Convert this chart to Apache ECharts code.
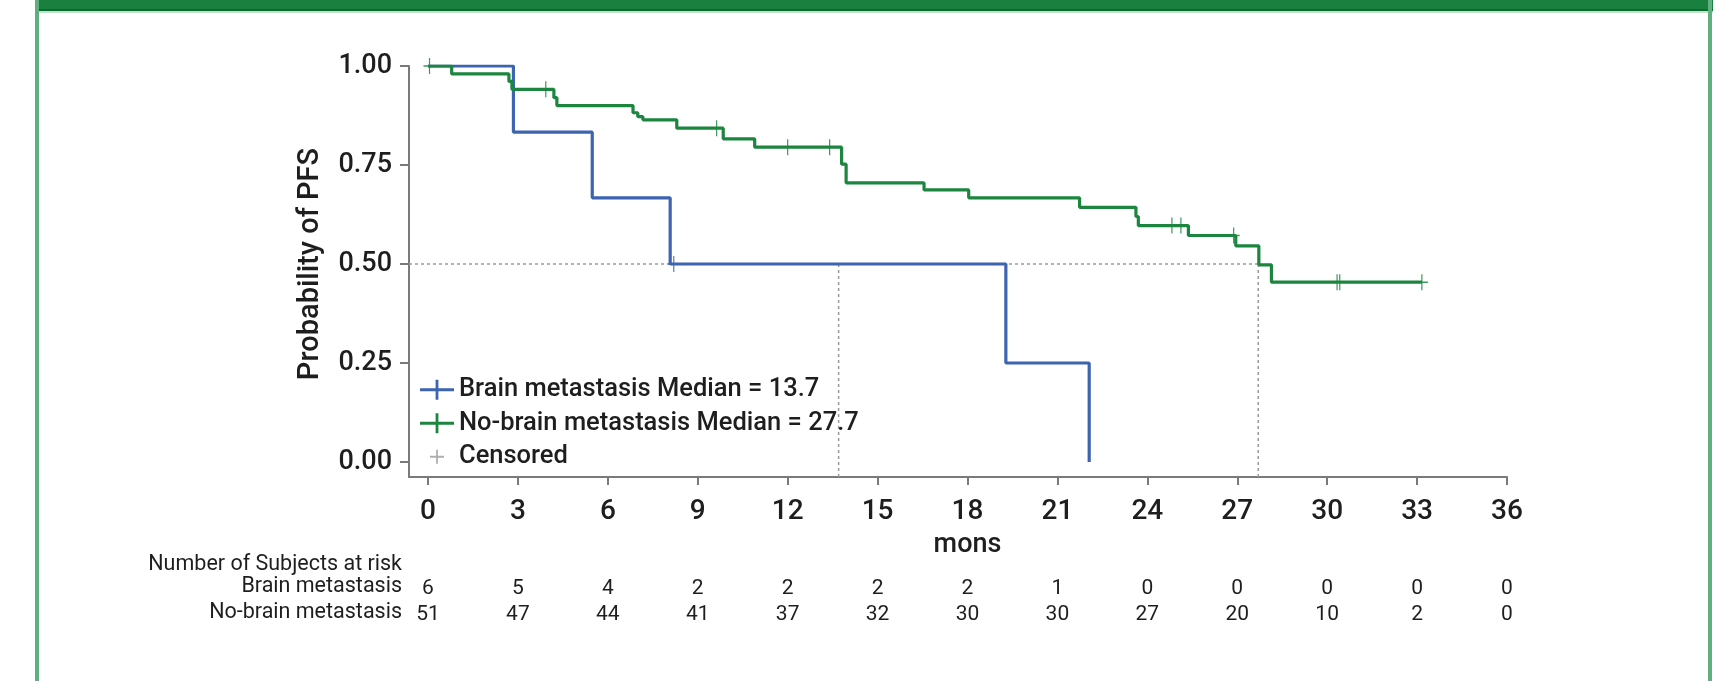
<!DOCTYPE html>
<html>
<head>
<meta charset="utf-8">
<title>PFS by brain metastasis status</title>
<script src="https://cdn.jsdelivr.net/npm/echarts@6/dist/echarts.min.js"></script>
<style>
  html, body { margin: 0; padding: 0; background: #ffffff; }
  #chart { width: 1720px; height: 681px; }
</style>
</head>
<body>
<div id="chart"></div>
<script>
// Follow-up months marked on the time axis
const tickMonths = [0, 3, 6, 9, 12, 15, 18, 21, 24, 27, 30, 33, 36];
// Subjects still at risk at each marked month
const riskBrain = [6, 5, 4, 2, 2, 2, 2, 1, 0, 0, 0, 0, 0];
const riskNoBrain = [51, 47, 44, 41, 37, 32, 30, 30, 27, 20, 10, 2, 0];

// Kaplan-Meier steps: time in months and PFS probability from that time on
const brainTimes = [0, 2.85, 5.48, 8.08, 19.28, 22.06];
const brainSurv = [1, 0.833, 0.667, 0.5, 0.25, 0];
const brainCensored = [8.2];

const noBrainTimes = [0, 0.79, 2.70, 2.80, 4.20, 4.30, 6.84, 7.00, 7.17, 8.30, 9.85, 10.90,
  13.80, 13.95, 16.55, 18.04, 21.74, 23.62, 23.70, 25.37, 26.95, 27.72, 28.14, 33.16];
const noBrainSurv = [1, 0.980, 0.961, 0.941, 0.920, 0.900, 0.882, 0.872, 0.864, 0.843, 0.816, 0.795,
  0.752, 0.705, 0.687, 0.667, 0.643, 0.620, 0.597, 0.572, 0.546, 0.498, 0.454, 0.454];
const noBrainCensored = [0.05, 3.93, 9.63, 12.0, 13.4, 24.82, 25.12, 26.88, 30.33, 30.42, 33.16];

const medianLevel = 0.5;
const medianBrain = 13.7;
const medianNoBrain = 27.7;

// ---- layout ----
const W = 1720, H = 681;
const PLOT = { left: 428, right: 1507, top: 66, bottom: 462 };
const GAP_LEFT = 19;    // y axis line sits left of month 0
const GAP_BOTTOM = 15;  // x axis line sits below probability 0
const X_MAX = 36, Y_MAX = 1;
const xMin = -GAP_LEFT * X_MAX / (PLOT.right - PLOT.left);
const yMin = -GAP_BOTTOM * Y_MAX / (PLOT.bottom - PLOT.top);

const FONT = 'Roboto, "DejaVu Sans", sans-serif';
const WEIGHT = 500;
const TEXT = '#1e1e1e';
const AXIS = '#7a7a7a';
const BLUE = '#3d64b0';
const GREEN = '#1c8540';
const GREY = '#9a9a9a';

const nameBrain = 'Brain metastasis Median = ' + medianBrain;
const nameNoBrain = 'No-brain metastasis Median = ' + medianNoBrain;

const CENSOR_MARK = 'path://M9,0h2v20h-2z M0,9h20v2h-20z';
const LEGEND_LINE_PLUS = 'path://M0,8.6h34v2.8h-34z M15.6,0h2.8v20h-2.8z';
const LEGEND_SMALL_PLUS = 'path://M0,0h0.01v0.01h-0.01z M34,20h-0.01v-0.01h0.01z M16.1,3h1.8v14h-1.8z M10,9.1h14v1.8h-14z';

function survivalAt(times, surv, t) {
  let s = surv[0];
  for (let i = 0; i < times.length; i++) if (times[i] <= t) s = surv[i];
  return s;
}
const steps = (times, surv) => times.map((t, i) => [t, surv[i]]);
const censorPoints = (cens, times, surv) => cens.map(c => [c, survivalAt(times, surv, c)]);

const riskAxis = (values, offset) => ({
  gridIndex: 1, type: 'value', position: 'bottom',
  min: 0, max: X_MAX, interval: 3, offset: offset,
  axisLine: { show: false, onZero: false }, axisTick: { show: false }, splitLine: { show: false },
  axisLabel: {
    margin: 0, fontFamily: FONT, fontSize: 21, lineHeight: 21, color: TEXT,
    formatter: v => String(values[tickMonths.indexOf(v)])
  }
});

const dotted = { color: GREY, width: 1.5, type: [3, 3] };
const plain = (data) => ({
  type: 'line', xAxisIndex: 0, yAxisIndex: 0, data: data, symbol: 'none',
  silent: true, lineStyle: dotted, z: 1
});

const tableTitle = (text, y) => ({
  type: 'text', silent: true, x: 402, y: y,
  style: { text: text, align: 'right', verticalAlign: 'middle',
    fontFamily: FONT, fontSize: 21.5, fill: TEXT }
});

const chart = echarts.init(document.getElementById('chart'), null, { renderer: 'canvas', width: W, height: H });

chart.setOption({
  animation: false,
  backgroundColor: '#ffffff',
  grid: [
    { left: PLOT.left - GAP_LEFT, right: W - PLOT.right, top: PLOT.top, bottom: H - PLOT.bottom - GAP_BOTTOM,
      containLabel: false, outerBoundsMode: 'none' },
    { left: PLOT.left, right: W - PLOT.right, top: PLOT.top, bottom: H - PLOT.bottom,
      containLabel: false, outerBoundsMode: 'none' }
  ],
  xAxis: [
    { gridIndex: 0, type: 'value', min: xMin, max: X_MAX, position: 'bottom',
      axisLine: { show: true, onZero: false, lineStyle: { color: AXIS, width: 2 } },
      axisTick: { show: false }, axisLabel: { show: false }, splitLine: { show: false } },
    { gridIndex: 1, type: 'value', min: 0, max: X_MAX, interval: 3, position: 'bottom', offset: GAP_BOTTOM,
      axisLine: { show: false, onZero: false },
      axisTick: { show: true, length: 8, lineStyle: { color: AXIS, width: 2 } },
      axisLabel: { margin: 21, fontFamily: FONT, fontSize: 28, fontWeight: WEIGHT, lineHeight: 28, color: TEXT,
        formatter: v => String(tickMonths[tickMonths.indexOf(v)]) },
      splitLine: { show: false },
      name: 'mons', nameLocation: 'middle', nameGap: 55,
      nameTextStyle: { fontFamily: FONT, fontSize: 27, fontWeight: WEIGHT, lineHeight: 27, color: TEXT } },
    riskAxis(riskBrain, 116),
    riskAxis(riskNoBrain, 142)
  ],
  yAxis: [
    { gridIndex: 0, type: 'value', min: yMin, max: Y_MAX, position: 'left',
      axisLine: { show: true, onZero: false, lineStyle: { color: AXIS, width: 2 } },
      axisTick: { show: false }, axisLabel: { show: false }, splitLine: { show: false } },
    { gridIndex: 1, type: 'value', min: 0, max: Y_MAX, interval: 0.25, position: 'left', offset: GAP_LEFT,
      axisLine: { show: false, onZero: false },
      axisTick: { show: true, length: 9, lineStyle: { color: AXIS, width: 2 } },
      axisLabel: { margin: 17, fontFamily: FONT, fontSize: 27, fontWeight: WEIGHT, color: TEXT,
        formatter: v => v.toFixed(2) },
      splitLine: { show: false },
      name: 'Probability of PFS', nameLocation: 'middle', nameGap: 84,
      nameTextStyle: { fontFamily: FONT, fontSize: 29, fontWeight: WEIGHT, lineHeight: 29, color: TEXT } }
  ],
  legend: {
    orient: 'vertical', left: 420, top: 373, padding: 0,
    itemWidth: 34, itemHeight: 20, itemGap: 0, selectedMode: false,
    textStyle: { fontFamily: FONT, fontSize: 25.5, fontWeight: WEIGHT, lineHeight: 33.5, color: TEXT },
    data: [
      { name: nameBrain, icon: LEGEND_LINE_PLUS },
      { name: nameNoBrain, icon: LEGEND_LINE_PLUS },
      { name: 'Censored', icon: LEGEND_SMALL_PLUS }
    ]
  },
  series: [
    plain([[xMin, medianLevel], [medianNoBrain, medianLevel]]),
    plain([[medianBrain, medianLevel], [medianBrain, yMin]]),
    plain([[medianNoBrain, medianLevel], [medianNoBrain, yMin]]),
    { name: nameBrain, type: 'line', step: 'end', xAxisIndex: 0, yAxisIndex: 0,
      data: steps(brainTimes, brainSurv), symbol: 'none', silent: true,
      color: BLUE, lineStyle: { color: BLUE, width: 3.2 }, z: 2 },
    { name: nameNoBrain, type: 'line', step: 'end', xAxisIndex: 0, yAxisIndex: 0,
      data: steps(noBrainTimes, noBrainSurv), symbol: 'none', silent: true,
      color: GREEN, lineStyle: { color: GREEN, width: 3.2 }, z: 3 },
    { type: 'scatter', xAxisIndex: 0, yAxisIndex: 0, silent: true, z: 4,
      data: censorPoints(brainCensored, brainTimes, brainSurv),
      symbol: CENSOR_MARK, symbolSize: [12, 16], itemStyle: { color: BLUE, opacity: 0.85 } },
    { type: 'scatter', xAxisIndex: 0, yAxisIndex: 0, silent: true, z: 4,
      data: censorPoints(noBrainCensored, noBrainTimes, noBrainSurv),
      symbol: CENSOR_MARK, symbolSize: [12, 16], itemStyle: { color: GREEN, opacity: 0.85 } },
    { name: 'Censored', type: 'scatter', xAxisIndex: 0, yAxisIndex: 0, data: [],
      color: GREY, itemStyle: { color: GREY } }
  ],
  graphic: [
    // panel frame
    { type: 'rect', silent: true, shape: { x: 36, y: 0, width: 1677, height: 9 }, style: { fill: '#1a803f' } },
    { type: 'rect', silent: true, shape: { x: 36, y: 9, width: 1677, height: 2 }, style: { fill: '#0c6a2f' } },
    { type: 'rect', silent: true, shape: { x: 36, y: 11, width: 1677, height: 2 }, style: { fill: '#c2e2cc' } },
    { type: 'rect', silent: true, shape: { x: 35, y: 0, width: 4, height: H }, style: { fill: '#5fb07e' } },
    { type: 'rect', silent: true, shape: { x: 1708, y: 0, width: 4, height: H }, style: { fill: '#5fb07e' } },
    // risk table row titles
    tableTitle('Number of Subjects at risk', 565),
    tableTitle('Brain metastasis', 587),
    tableTitle('No-brain metastasis', 613)
  ]
});
</script>
</body>
</html>
